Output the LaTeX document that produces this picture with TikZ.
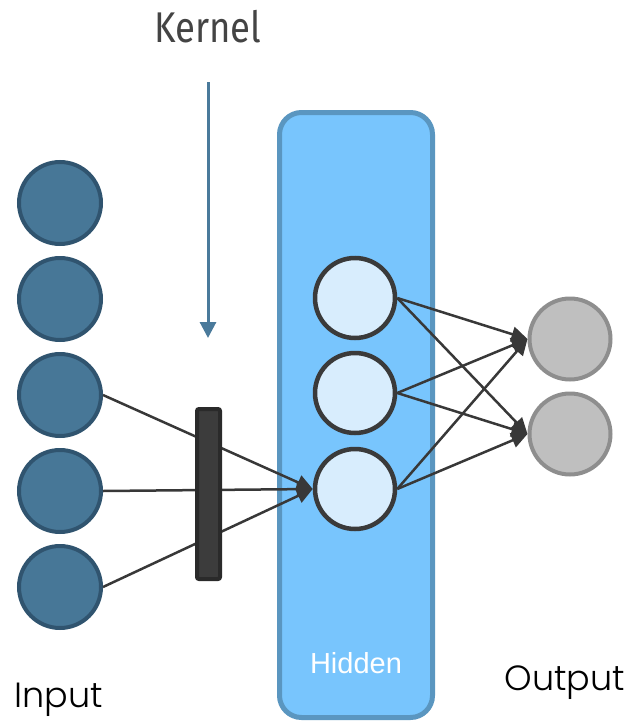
\documentclass[tikz,border=0pt]{standalone}
\usepackage{fontspec}
\setmainfont{Liberation Sans}
\newfontfamily\kfont{Fira Sans}
\newfontfamily\lfont{Poppins Light}
\usetikzlibrary{arrows.meta}
\definecolor{inFill}{HTML}{477797}
\definecolor{inDraw}{HTML}{30546F}
\definecolor{kArrow}{HTML}{4A7A9B}
\definecolor{hidFill}{HTML}{78C5FD}
\definecolor{hidDraw}{HTML}{5A96C0}
\definecolor{hnFill}{HTML}{D8EDFD}
\definecolor{hnDraw}{HTML}{3A3A3A}
\definecolor{outFill}{HTML}{BFBFBF}
\definecolor{outDraw}{HTML}{8E8E8E}
\definecolor{barFill}{HTML}{3C3C3C}
\definecolor{barDraw}{HTML}{2A2A2A}
\definecolor{edgeCol}{HTML}{383838}
\definecolor{kText}{HTML}{444444}
\begin{document}
\begin{tikzpicture}[x=1pt,y=-1pt,
  innode/.style={circle,draw=inDraw,fill=inFill,line width=4pt,minimum size=82pt,inner sep=0pt},
  hidnode/.style={circle,draw=hnDraw,fill=hnFill,line width=4.5pt,minimum size=80pt,inner sep=0pt},
  outnode/.style={circle,draw=outDraw,fill=outFill,line width=4pt,minimum size=81pt,inner sep=0pt},
  layerbox/.style={rectangle,rounded corners=22pt,draw=hidDraw,fill=hidFill,line width=5pt,minimum width=153pt,minimum height=605pt,inner sep=0pt},
  kernelbar/.style={rectangle,rounded corners=2pt,draw=barDraw,fill=barFill,line width=4pt,minimum width=23pt,minimum height=170pt,inner sep=0pt},
  edge/.style={draw=edgeCol,line width=2.5pt,-{Triangle[length=16pt,width=15pt]}},
  karrow/.style={draw=kArrow,line width=3pt,-{Triangle[length=16pt,width=16pt]}},
  biglabel/.style={inner sep=0pt,anchor=base,font=\lfont\fontsize{35}{40}\selectfont,text=black}
]
\useasboundingbox (0,0) rectangle (635,725);

% hidden layer box
\node[layerbox] (hbox) at (356,415) {};
\node[inner sep=0pt,anchor=base,text=white,font=\fontsize{29}{34}\selectfont] (hlabel) at (356,673) {Hidden};

% input nodes
\node[innode] (i1) at (60,203) {};
\node[innode] (i2) at (60,299) {};
\node[innode] (i3) at (60,395) {};
\node[innode] (i4) at (60,491) {};
\node[innode] (i5) at (60,587) {};

% hidden nodes
\node[hidnode] (h1) at (355,298) {};
\node[hidnode] (h2) at (355,393) {};
\node[hidnode] (h3) at (355,489) {};

% output nodes
\node[outnode] (o1) at (570,339) {};
\node[outnode] (o2) at (570,434) {};

% input -> hidden via kernel
\draw[edge] (i3.east) -- (h3.west);
\draw[edge] (i4.east) -- (h3.west);
\draw[edge] (i5.east) -- (h3.west);

% kernel bar
\node[kernelbar] (bar) at (208.5,494) {};

% hidden -> output
\foreach \h in {h1,h2,h3}{
  \draw[edge] (\h.east) -- (o1.west);
  \draw[edge] (\h.east) -- (o2.west);
}

% kernel label and arrow
\node[inner sep=0pt,text=kText,font=\kfont\fontsize{43}{48}\selectfont,xscale=0.85] (klabel) at (208,27) {Kernel};
\coordinate (ks) at (208,82);
\coordinate (ke) at (208,338);
\draw[karrow] (ks) -- (ke);

% labels
\node[biglabel] (inlabel) at (59,707) {Input};
\node[biglabel] (outlabel) at (565,690) {Output};
\end{tikzpicture}
\end{document}
